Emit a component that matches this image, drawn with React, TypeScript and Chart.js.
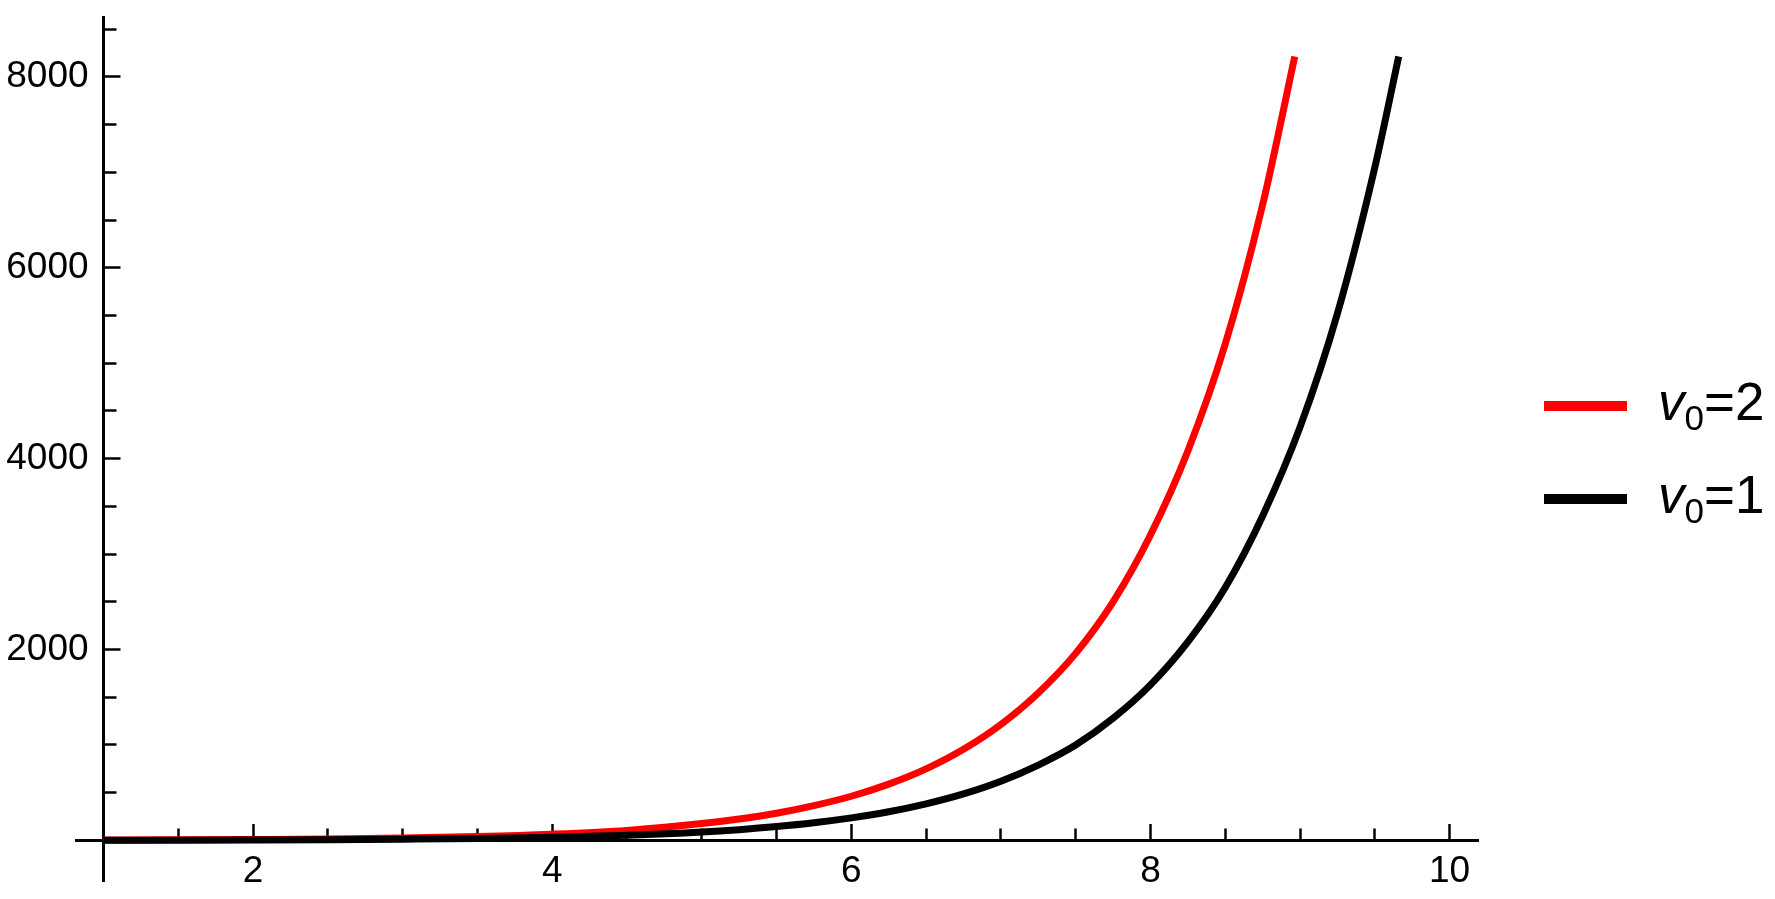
import React, { useEffect, useRef } from 'react';
import { Chart, registerables } from 'chart.js';

Chart.register(...registerables);

// ---- data ----
const redX = [1, 1.5, 2, 2.5, 3, 3.5, 4, 4.5, 5, 5.25, 5.5, 5.75, 6, 6.25, 6.5, 6.75, 7, 7.25, 7.5, 7.75, 8, 8.25, 8.5, 8.75, 8.965];
const redY = [4, 6, 10, 15, 25, 40, 65, 105, 177, 225, 285, 365, 463, 590, 750, 955, 1215, 1545, 1960, 2500, 3200, 4080, 5200, 6660, 8214];

const blackX = [1, 1.5, 2, 2.5, 3, 3.5, 4, 4.5, 5, 5.25, 5.5, 5.75, 6, 6.25, 6.5, 6.75, 7, 7.25, 7.5, 7.75, 8, 8.25, 8.5, 8.75, 9, 9.25, 9.5, 9.66];
const blackY = [2, 3, 5, 8, 13, 20, 33, 54, 88, 113, 145, 185, 236, 300, 383, 487, 620, 790, 1000, 1280, 1630, 2080, 2650, 3400, 4330, 5520, 7050, 8214];

const xMajorTicks = [2, 4, 6, 8, 10];
const xTickLabels = ['2', '4', '6', '8', '10'];
const xMinorTicks = [1.5, 2.5, 3, 3.5, 4.5, 5, 5.5, 6.5, 7, 7.5, 8.5, 9, 9.5];

const yMajorTicks = [2000, 4000, 6000, 8000];
const yTickLabels = ['2000', '4000', '6000', '8000'];
const yMinorTicks = [500, 1000, 1500, 2500, 3000, 3500, 4500, 5000, 5500, 6500, 7000, 7500, 8500];

const legendSymbol = 'v';
const legendSub = '0';
const legendValues = ['2', '1'];
const seriesColors = ['#ff0000', '#000000'];

// ---- style constants ----
const FONT = "'Liberation Sans', Arial, sans-serif";
const X_MIN = 0.816;
const X_MAX = 10.19;
const Y_MIN = -425;
const Y_MAX = 8627;
const Y_LABEL_X = 0.9;

const zeroPad = (s: any) => {
  s.paddingLeft = 0;
  s.paddingRight = 0;
  s.paddingTop = 0;
  s.paddingBottom = 0;
};

const mathLegend = {
  id: 'mathLegend',
  afterDraw(chart: any, _args: any, opts: any) {
    const ctx = chart.ctx as CanvasRenderingContext2D;
    const area = chart.chartArea;
    const x0 = area.right + opts.offsetX;
    chart.data.datasets.forEach((ds: any, i: number) => {
      const cy = opts.top + i * opts.gap;
      ctx.save();
      ctx.strokeStyle = ds.borderColor;
      ctx.lineWidth = opts.swatchWidth;
      ctx.lineCap = 'butt';
      ctx.beginPath();
      ctx.moveTo(x0, cy);
      ctx.lineTo(x0 + opts.swatchLength, cy);
      ctx.stroke();

      ctx.fillStyle = '#000';
      ctx.textAlign = 'left';
      ctx.textBaseline = 'alphabetic';
      let tx = x0 + opts.swatchLength + opts.textGap;
      const base = cy + opts.baselineShift;
      ctx.font = `italic ${opts.size}px ${FONT}`;
      ctx.fillText(legendSymbol, tx, base);
      tx += ctx.measureText(legendSymbol).width;
      ctx.font = `${opts.subSize}px ${FONT}`;
      ctx.fillText(legendSub, tx, base + opts.subDrop);
      tx += ctx.measureText(legendSub).width;
      ctx.font = `${opts.size}px ${FONT}`;
      ctx.fillText('=' + legendValues[i], tx, base);
      ctx.restore();
    });
  },
};

export default function App() {
  const ref = useRef<HTMLCanvasElement | null>(null);

  useEffect(() => {
    if (!ref.current) return;
    const tickFont = { family: FONT, size: 37 };

    const chart = new Chart(ref.current, {
      type: 'line',
      data: {
        datasets: [
          {
            label: `v${legendSub}=${legendValues[0]}`,
            data: redX.map((x, i) => ({ x, y: redY[i] })),
            borderColor: seriesColors[0],
            borderWidth: 7,
            pointRadius: 0,
            cubicInterpolationMode: 'monotone',
            fill: false,
            order: 2,
          },
          {
            label: `v${legendSub}=${legendValues[1]}`,
            data: blackX.map((x, i) => ({ x, y: blackY[i] })),
            borderColor: seriesColors[1],
            borderWidth: 7,
            pointRadius: 0,
            cubicInterpolationMode: 'monotone',
            fill: false,
            order: 1,
          },
        ],
      },
      options: {
        animation: false,
        responsive: true,
        maintainAspectRatio: false,
        devicePixelRatio: 1,
        layout: { padding: { left: 76, right: 297, top: 17, bottom: 18 } },
        plugins: {
          legend: { display: false },
          tooltip: { enabled: false },
          mathLegend: {
            offsetX: 66,
            top: 406,
            gap: 93,
            swatchLength: 83,
            swatchWidth: 10,
            textGap: 31,
            baselineShift: 14,
            size: 53,
            subSize: 35,
            subDrop: 10,
          },
        } as any,
        scales: {
          x: {
            type: 'linear',
            axis: 'x',
            min: X_MIN,
            max: X_MAX,
            position: { y: 0 } as any,
            border: { display: true, color: '#000', width: 3 },
            grid: { display: true, drawOnChartArea: false, drawTicks: true, tickLength: -18, tickColor: '#000', tickWidth: 2.5 },
            ticks: { display: false },
            afterBuildTicks: (s: any) => { s.ticks = xMajorTicks.map((v) => ({ value: v })); },
            afterFit: zeroPad,
          },
          xMinor: {
            type: 'linear',
            axis: 'x',
            min: X_MIN,
            max: X_MAX,
            position: { y: 0 } as any,
            border: { display: false },
            grid: { display: true, drawOnChartArea: false, drawTicks: true, tickLength: -11.5, tickColor: '#000', tickWidth: 2.5 },
            ticks: { display: false },
            afterBuildTicks: (s: any) => { s.ticks = xMinorTicks.map((v) => ({ value: v })); },
            afterFit: zeroPad,
          },
          xLabels: {
            type: 'linear',
            axis: 'x',
            min: X_MIN,
            max: X_MAX,
            position: { y: 0 } as any,
            border: { display: false },
            grid: { display: false, drawTicks: false },
            ticks: {
              display: true,
              color: '#000',
              font: tickFont,
              padding: 9,
              autoSkip: false,
              maxRotation: 0,
              minRotation: 0,
              callback: (_v: any, i: number) => xTickLabels[i],
            },
            afterBuildTicks: (s: any) => { s.ticks = xMajorTicks.map((v) => ({ value: v })); },
            afterFit: zeroPad,
          },
          y: {
            type: 'linear',
            axis: 'y',
            min: Y_MIN,
            max: Y_MAX,
            position: { x: 1 } as any,
            border: { display: true, color: '#000', width: 3 },
            grid: { display: true, drawOnChartArea: false, drawTicks: true, tickLength: -18.5, tickColor: '#000', tickWidth: 2.5 },
            ticks: { display: false },
            afterBuildTicks: (s: any) => { s.ticks = yMajorTicks.map((v) => ({ value: v })); },
            afterFit: zeroPad,
          },
          yMinor: {
            type: 'linear',
            axis: 'y',
            min: Y_MIN,
            max: Y_MAX,
            position: { x: 1 } as any,
            border: { display: false },
            grid: { display: true, drawOnChartArea: false, drawTicks: true, tickLength: -12.5, tickColor: '#000', tickWidth: 2.5 },
            ticks: { display: false },
            afterBuildTicks: (s: any) => { s.ticks = yMinorTicks.map((v) => ({ value: v })); },
            afterFit: zeroPad,
          },
          yLabels: {
            type: 'linear',
            axis: 'y',
            min: Y_MIN,
            max: Y_MAX,
            position: { x: Y_LABEL_X } as any,
            border: { display: false },
            grid: { display: false, drawTicks: false },
            ticks: {
              display: true,
              color: '#000',
              font: tickFont,
              padding: 0,
              autoSkip: false,
              callback: (_v: any, i: number) => yTickLabels[i],
            },
            afterBuildTicks: (s: any) => { s.ticks = yMajorTicks.map((v) => ({ value: v })); },
            afterFit: zeroPad,
          },
        } as any,
      },
      plugins: [mathLegend as any],
    });

    return () => chart.destroy();
  }, []);

  return (
    <div style={{ position: 'absolute', left: 0, top: 0, width: 1775, height: 899, background: '#fff' }}>
      <canvas ref={ref} />
    </div>
  );
}
